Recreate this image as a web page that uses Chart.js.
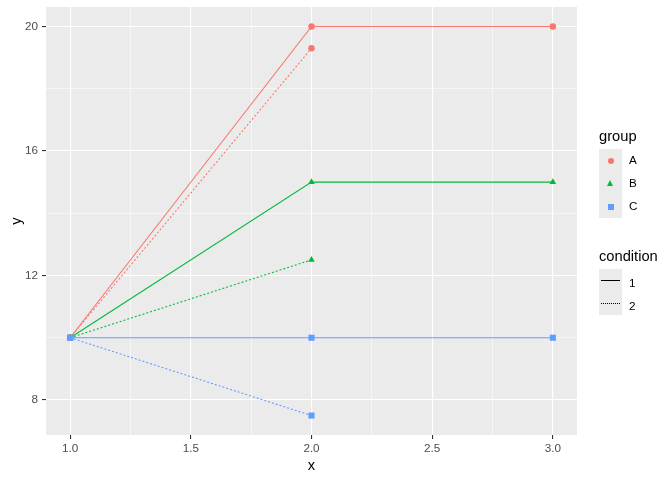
<!DOCTYPE html>
<html lang="en">
<head>
  <meta charset="utf-8" />
  <title>y against x by group and condition</title>
  <script src="https://cdn.jsdelivr.net/npm/chart.js@4.4.1/dist/chart.umd.min.js"></script>
  <style>
    * { box-sizing: border-box; }
    body { margin: 0; background: #fff; font-family: "Liberation Sans", Arial, sans-serif; }
    .wrap { position: relative; width: 672px; height: 480px; }
    canvas { position: absolute; left: 0; top: 0; }
    .lg-title { position: absolute; left: 599px; font-size: 14.7px; line-height: 17px; color: #000; }
    .lg-keys { position: absolute; left: 599px; width: 23px; background: #ebebeb; }
    .lg-label { position: absolute; left: 629px; font-size: 11.7px; line-height: 14px; color: #000; }
    .sym { position: absolute; }
    .circle { width: 6px; height: 6px; border-radius: 50%; background: #F8766D; left: 8.5px; }
    .tri { width: 0; height: 0; border-left: 3.5px solid transparent; border-right: 3.5px solid transparent; border-bottom: 6px solid #00BA38; left: 8px; }
    .square { width: 6px; height: 6px; background: #619CFF; left: 8.5px; }
    .ln { left: 2px; width: 19px; height: 0; border-top: 1px solid #000; }
    .ln.dot { border-top-style: dotted; }
  </style>
</head>
<body>
  <div class="wrap">
    <canvas id="chart" width="672" height="480"></canvas>

    <div class="lg-title" style="top:128px">group</div>
    <div class="lg-keys" style="top:149px;height:69px">
      <div class="sym circle" style="top:8.5px"></div>
      <div class="sym tri" style="top:31px"></div>
      <div class="sym square" style="top:54.5px"></div>
    </div>
    <div class="lg-label" style="top:153px">A</div>
    <div class="lg-label" style="top:176px">B</div>
    <div class="lg-label" style="top:199px">C</div>

    <div class="lg-title" style="top:248px">condition</div>
    <div class="lg-keys" style="top:269px;height:46px">
      <div class="sym ln" style="top:11px"></div>
      <div class="sym ln dot" style="top:34px"></div>
    </div>
    <div class="lg-label" style="top:276px">1</div>
    <div class="lg-label" style="top:299px">2</div>
  </div>

  <script>
    const xValues = [1, 2, 3];
    const groupA1 = [10, 20, 20];
    const groupA2 = [10, 19.3];
    const groupB1 = [10, 15, 15];
    const groupB2 = [10, 12.5];
    const groupC1 = [10, 10, 10];
    const groupC2 = [10, 7.5];

    const xMajor = [1, 1.5, 2, 2.5, 3];
    const xMinor = [1.25, 1.75, 2.25, 2.75];
    const yMajor = [8, 12, 16, 20];
    const yMinor = [10, 14, 18];

    const COLORS = { A: "#F8766D", B: "#00BA38", C: "#619CFF" };
    const SHAPES = { A: ["circle", 3.2], B: ["triangle", 3.8], C: ["rect", 4.3] };

    function toPoints(ys) {
      return ys.map((y, i) => ({ x: xValues[i], y }));
    }

    function makeSet(group, cond, ys) {
      const [style, radius] = SHAPES[group];
      return {
        label: group + " " + cond,
        data: toPoints(ys),
        borderColor: COLORS[group],
        backgroundColor: COLORS[group],
        borderWidth: 1.07,
        borderDash: cond === 2 ? [2, 2] : [],
        pointStyle: style,
        pointRadius: radius,
        pointBorderWidth: 0,
        pointHoverRadius: radius,
        tension: 0,
        fill: false,
      };
    }

    const datasets = [
      makeSet("C", 1, groupC1),
      makeSet("C", 2, groupC2),
      makeSet("B", 1, groupB1),
      makeSet("B", 2, groupB2),
      makeSet("A", 1, groupA1),
      makeSet("A", 2, groupA2),
    ];

    const panelBg = {
      id: "panelBg",
      beforeDraw(chart) {
        const { ctx, chartArea: a } = chart;
        ctx.save();
        ctx.fillStyle = "#EBEBEB";
        ctx.fillRect(a.left, a.top, a.right - a.left, a.bottom - a.top);
        ctx.restore();
      },
    };

    function gridFor(major) {
      const isMajor = (ctx) => ctx.tick && major.includes(ctx.tick.value);
      return {
        color: "#FFFFFF",
        lineWidth: (ctx) => (isMajor(ctx) ? 1.1 : 0.55),
        tickColor: (ctx) => (isMajor(ctx) ? "#333333" : "rgba(0,0,0,0)"),
        tickWidth: 1.1,
        tickLength: 4,
      };
    }

    new Chart(document.getElementById("chart"), {
      type: "line",
      data: { datasets },
      plugins: [panelBg],
      options: {
        responsive: false,
        animation: false,
        layout: { padding: { top: 7, right: 95, left: 0, bottom: 0 } },
        plugins: { legend: { display: false }, tooltip: { enabled: false } },
        scales: {
          x: {
            type: "linear",
            min: 0.9,
            max: 3.1,
            border: { display: false },
            grid: gridFor(xMajor),
            afterBuildTicks(scale) {
              scale.ticks = [...xMajor, ...xMinor].sort((a, b) => a - b).map((v) => ({ value: v }));
            },
            afterFit(scale) {
              scale.height = 45;
              scale.paddingLeft = 0;
              scale.paddingRight = 0;
            },
            ticks: {
              autoSkip: false,
              maxRotation: 0,
              padding: 3,
              color: "#4D4D4D",
              font: { family: "Liberation Sans", size: 11.7 },
              callback: (v) => (xMajor.includes(v) ? v.toFixed(1) : ""),
            },
            title: {
              display: true,
              text: "x",
              color: "#000",
              font: { family: "Liberation Sans", size: 14.7 },
              padding: { top: 0, bottom: 5 },
            },
          },
          y: {
            type: "linear",
            min: 6.875,
            max: 20.625,
            border: { display: false },
            grid: gridFor(yMajor),
            afterBuildTicks(scale) {
              scale.ticks = [...yMajor, ...yMinor].sort((a, b) => a - b).map((v) => ({ value: v }));
            },
            afterFit(scale) {
              scale.width = 46;
              scale.paddingTop = 0;
              scale.paddingBottom = 0;
            },
            ticks: {
              autoSkip: false,
              padding: 4,
              color: "#4D4D4D",
              font: { family: "Liberation Sans", size: 11.7 },
              callback: (v) => (yMajor.includes(v) ? String(v) : ""),
            },
            title: {
              display: true,
              text: "y",
              color: "#000",
              font: { family: "Liberation Sans", size: 14.7 },
              padding: { top: 8, bottom: 0 },
            },
          },
        },
      },
    });
  </script>
</body>
</html>
